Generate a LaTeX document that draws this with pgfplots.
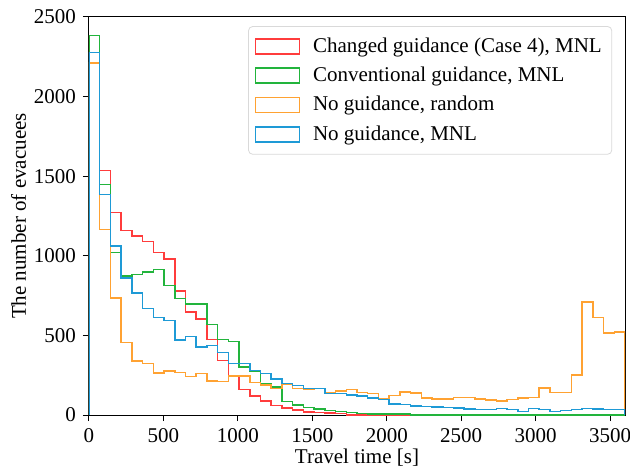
\documentclass[border=0pt]{standalone}
\usepackage{fontspec}
\setmainfont{Liberation Serif}
\usepackage{pgfplots}
\usepackage{pgfplotstable}
\pgfplotsset{compat=1.18}

\definecolor{cred}{HTML}{FF3C3C}
\definecolor{cgreen}{HTML}{22B43C}
\definecolor{corange}{HTML}{FFA232}
\definecolor{cblue}{HTML}{1E9AD6}

% bin left edges (72 s bins); first and last rows close the step outline
\pgfplotstableread{
x     red   green  orange  blue
0     0     0      0       0
0     2383  2383   2211    2278
72    1536  1448   1166    1386
144   1273  1022   735     1062
216   1160  873    456     860
288   1124  884    340     765
360   1091  899    325     670
432   1022  913    265     614
504   980   813    277     595
576   778   732    268     470
648   646   698    243     493
720   602   698    262     426
792   474   567    215     435
864   342   475    210     393
936   245   463    245     325
1008  160   302    244     325
1080  118   272    205     280
1152  89    197    190     260
1224  60    176    167     226
1296  45    84     194     199
1368  31    63     167     184
1440  20    48     159     167
1512  15    38     165     167
1584  12    27     142     135
1656  8     21     150     135
1728  0     17     160     126
1800  0     11     140     119
1872  0     6      134     108
1944  0     6      105     96
2016  0     5      124     69
2088  0     5      146     65
2160  0     0      137     58
2232  0     0      107     54
2304  0     0      100     50
2376  0     0      100     48
2448  0     0      109     44
2520  0     0      109     38
2592  0     0      100     33
2664  0     0      94      33
2736  0     0      88      40
2808  0     0      96      33
2880  0     0      108     21
2952  0     0      110     42
3024  0     0      169     33
3096  0     0      142     21
3168  0     0      142     27
3240  0     0      251     33
3312  0     0      710     42
3384  0     0      613     38
3456  0     0      515     33
3528  0     0      522     33
3600  0     0      0       0
}\hist

\begin{document}
\begin{tikzpicture}[font=\fontsize{10.5pt}{12.6pt}\selectfont]
\begin{axis}[
  name=ax,
  scale only axis, width=268pt, height=199pt,
  xmin=0, xmax=3600, ymin=0, ymax=2500,
  xtick={0,500,...,3500}, ytick={0,500,...,2500},
  tick pos=left, tick align=outside, major tick length=3pt,
  tick style={black, line width=0.5pt},
  axis line style={line width=0.5pt},
  /pgf/number format/1000 sep={},
  /pgf/number format/assume math mode=true,
  xlabel={Travel time [s]}, ylabel={The number of evacuees},
  xlabel style={yshift=3.5pt}, ylabel style={yshift=-3pt},
  every axis plot/.append style={const plot mark left, no marks, line width=0.75pt},
  legend image code/.code={\draw[#1, sharp corners] (0pt,-3.75pt) rectangle (22pt,3.75pt);},
  legend style={at={(rel axis cs:0.976,0.977)}, anchor=north east,
    draw=black!15, rounded corners=2pt, inner xsep=3pt, inner ysep=3.5pt,
    row sep=1.9pt, column sep=4.5pt, font=\fontsize{10.5pt}{12.6pt}\selectfont,
    nodes={inner sep=2pt}},
  legend cell align=left,
]
\addplot[cred] table[x=x, y=red] {\hist};
\addlegendentry{Changed guidance (Case 4), MNL}
\addplot[cgreen] table[x=x, y=green] {\hist};
\addlegendentry{Conventional guidance, MNL}
\addplot[corange] table[x=x, y=orange] {\hist};
\addlegendentry{No guidance, random}
\addplot[cblue] table[x=x, y=blue] {\hist};
\addlegendentry{No guidance, MNL}
\end{axis}
\pgfresetboundingbox
\path[use as bounding box] ([shift={(-44.5pt,-28pt)}]ax.south west) rectangle ([shift={(2.5pt,8.5pt)}]ax.north east);
\end{tikzpicture}
\end{document}
